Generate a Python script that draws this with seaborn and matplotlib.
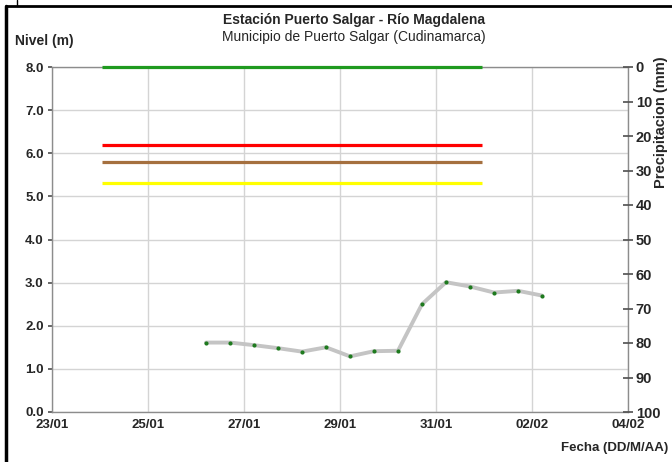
import pandas as pd
import numpy as np
import matplotlib.pyplot as plt
import matplotlib.dates as mdates
from matplotlib.lines import Line2D
import seaborn as sns

# Nivel del río (m), lecturas cada 12 horas
fechas = pd.date_range("2012-01-26 05:00", periods=15, freq="12h")
nivel = [1.61, 1.61, 1.55, 1.48, 1.40, 1.50, 1.29, 1.41, 1.42,
         2.50, 3.01, 2.91, 2.77, 2.81, 2.70]

# Umbrales de alerta (m)
umbral_nombres = ["verde", "roja", "naranja", "amarilla"]
umbral_valores = [8.0, 6.2, 5.8, 5.3]
umbral_colores = ["#1f9a1f", "#ff0000", "#a5703f", "#ffff00"]
umbral_inicio = pd.Timestamp("2012-01-24 01:00")
umbral_fin = pd.Timestamp("2012-01-31 23:00")

x_min = pd.Timestamp("2012-01-23")
x_max = pd.Timestamp("2012-02-04")

sns.set_theme(style="white")
plt.rcParams['font.family'] = ['Liberation Sans', 'DejaVu Sans']

fig = plt.figure(figsize=(6.72, 4.62), dpi=100)
ax = fig.add_axes([52 / 672, 1 - 412 / 462, 576 / 672, 345 / 462])

for val, col in zip(umbral_valores, umbral_colores):
    ax.plot([umbral_inicio, umbral_fin], [val, val], color=col, lw=2.3,
            solid_capstyle='butt', zorder=6, clip_on=False)

df = pd.DataFrame({"fecha": fechas, "nivel": nivel})
sns.lineplot(data=df, x="fecha", y="nivel", ax=ax, color="#c4c4c4", lw=2.8,
             zorder=4)
ax.scatter(df["fecha"], df["nivel"], s=9, color="#1e7a1e", zorder=5,
           linewidths=0)

ax.set_xlim(x_min, x_max)
ax.set_ylim(0, 8)
ax.set_yticks(np.arange(0, 8.1, 1))
ax.yaxis.set_major_formatter(plt.FormatStrFormatter('%.1f'))
ax.xaxis.set_major_locator(mdates.DayLocator(interval=2))
ax.xaxis.set_major_formatter(mdates.DateFormatter('%d/%m'))
ax.set_xlabel("")
ax.set_ylabel("")
ax.grid(True, color="#d4d4d4", lw=1)
for side in ["left", "right", "top", "bottom"]:
    ax.spines[side].set_color("#8c8c8c")
    ax.spines[side].set_linewidth(1.0)
ax.tick_params(axis='y', direction='out', length=3, color="#555555",
               labelsize=9.5, pad=3)
ax.tick_params(axis='x', length=0, labelsize=9.5, pad=5)
for lab in ax.get_xticklabels() + ax.get_yticklabels():
    lab.set_fontweight('bold')

ax2 = ax.twinx()
ax2.set_ylim(100, 0)
ax2.set_yticks(np.arange(0, 101, 10))
ax2.tick_params(axis='y', direction='inout', length=7, color="#555555",
                labelsize=10.5, pad=2)
for lab in ax2.get_yticklabels():
    lab.set_fontweight('bold')
ax2.grid(False)
for side in ["left", "right", "top", "bottom"]:
    ax2.spines[side].set_visible(False)

fig.text(354 / 672, 1 - 20 / 462, "Estación Puerto Salgar - Río Magdalena",
         ha='center', va='center', fontsize=10, fontweight='bold')
fig.text(354 / 672, 1 - 37 / 462, "Municipio de Puerto Salgar (Cudinamarca)",
         ha='center', va='center', fontsize=10)
fig.text(15 / 672, 1 - 41 / 462, "Nivel (m)", ha='left', va='center',
         fontsize=10, fontweight='bold')
fig.text(661 / 672, 1 - 122 / 462, "Precipitacion (mm)", ha='center',
         va='center', rotation=90, fontsize=10.5, fontweight='bold')
fig.text(668 / 672, 1 - 448 / 462, "Fecha (DD/M/AA)", ha='right',
         va='center', fontsize=9.5, fontweight='bold')

# marco del gráfico
fig.add_artist(Line2D([5.5 / 672, 5.5 / 672], [0, 1 - 6 / 462],
                      transform=fig.transFigure, color='black', lw=2.5))
fig.add_artist(Line2D([5.5 / 672, 1], [1 - 6 / 462, 1 - 6 / 462],
                      transform=fig.transFigure, color='black', lw=2))
fig.add_artist(Line2D([17 / 672, 17 / 672], [1 - 6 / 462, 1],
                      transform=fig.transFigure, color='black', lw=1))

fig.savefig("out.png", dpi=100)
